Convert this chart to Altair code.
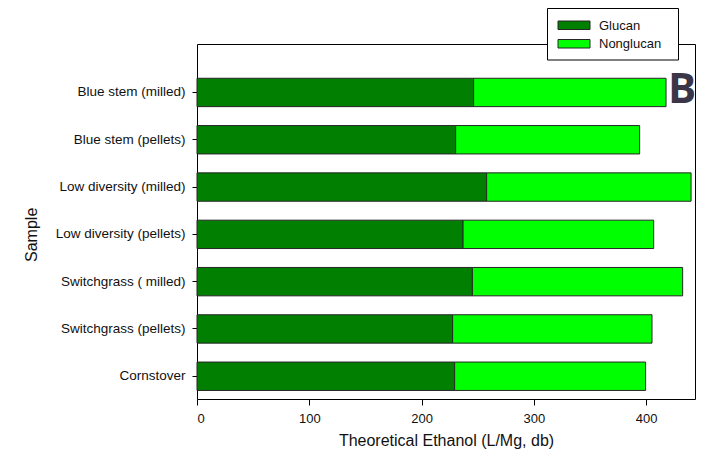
import altair as alt
import pandas as pd

samples = [
    "Blue stem (milled)",
    "Blue stem (pellets)",
    "Low diversity (milled)",
    "Low diversity (pellets)",
    "Switchgrass ( milled)",
    "Switchgrass (pellets)",
    "Cornstover",
]
glucan = [246.4, 230.4, 258.0, 237.0, 245.3, 227.7, 229.5]
nonglucan = [171.4, 163.9, 182.1, 169.8, 187.3, 177.6, 170.1]
series = ["Glucan", "Nonglucan"]
colors = ["#007f00", "#00ff00"]
x_ticks = [0, 100, 200, 300, 400]
panel_letter = "B"

rows = []
for s, g, n in zip(samples, glucan, nonglucan):
    rows.append({"Sample": s, "Component": series[0], "value": g, "order": 0})
    rows.append({"Sample": s, "Component": series[1], "value": n, "order": 1})
df = pd.DataFrame(rows)

FONT = "Liberation Sans"
EDGE = "#262626"

bars = alt.Chart(df).mark_bar(stroke=EDGE, strokeWidth=1).encode(
    y=alt.Y(
        "Sample:N",
        sort=samples,
        scale=alt.Scale(range=[24.8, 355.9], paddingInner=0.4, paddingOuter=0.2),
        axis=alt.Axis(
            title="Sample",
            labelFontSize=13.5,
            tickSize=5,
            labelPadding=7,
            titlePadding=16,
        ),
    ),
    x=alt.X(
        "value:Q",
        stack="zero",
        scale=alt.Scale(domain=[0, 443.6], nice=False),
        axis=alt.Axis(
            values=x_ticks,
            title="Theoretical Ethanol (L/Mg, db)",
            labelFontSize=13,
            tickSize=6,
            labelPadding=7,
            titlePadding=7,
        ),
    ),
    color=alt.Color("Component:N", scale=alt.Scale(domain=series, range=colors), legend=None),
    order=alt.Order("order:Q"),
)

one = pd.DataFrame({"k": [0]})
legend_box = alt.Chart(one).mark_rect(fill="white", stroke="black", strokeWidth=1).encode(
    x=alt.value(350.5), x2=alt.value(481.5), y=alt.value(-35.5), y2=alt.value(16)
)

layers = [bars, legend_box]
for i, y_top in enumerate([-23, -4.5]):
    d = pd.DataFrame({"label": [series[i]]})
    layers.append(
        alt.Chart(d).mark_rect(fill=colors[i], stroke=EDGE, strokeWidth=1).encode(
            x=alt.value(361), x2=alt.value(393), y=alt.value(y_top), y2=alt.value(y_top + 8.5)
        )
    )
    layers.append(
        alt.Chart(d).mark_text(align="left", baseline="middle", font=FONT, fontSize=13, color="#111111").encode(
            x=alt.value(402), y=alt.value(y_top + 4.5), text="label:N"
        )
    )

letter = alt.Chart(pd.DataFrame({"t": [panel_letter]})).mark_text(
    align="center", baseline="alphabetic", font="Open Sans", fontWeight="bold", fontSize=42, color="#3b3647"
).encode(x=alt.value(485), y=alt.value(59), text="t:N")
layers.append(letter)

chart = alt.layer(*layers).properties(
    width=498,
    height=355,
    autosize=alt.AutoSizeParams(type="none"),
    padding={"left": 189, "top": 36, "right": 1, "bottom": 51},
).configure_view(
    stroke="black", strokeWidth=1
).configure_axis(
    labelFont=FONT,
    titleFont=FONT,
    labelColor="#111111",
    titleColor="#111111",
    tickColor="black",
    domain=False,
    grid=False,
    titleFontSize=16,
    titleFontWeight="normal",
)

chart.save("out.html", embed_options={"renderer": "svg", "actions": False})
